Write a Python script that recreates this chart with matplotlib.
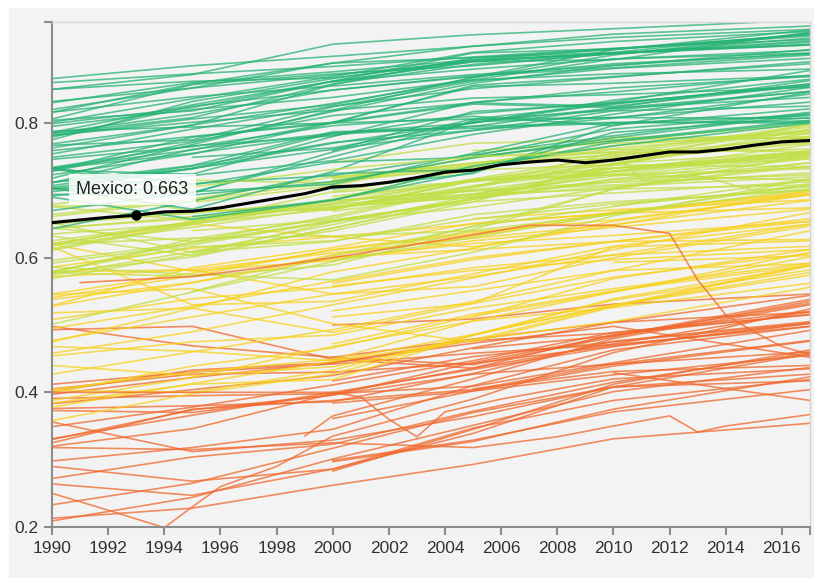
import matplotlib
matplotlib.use("Agg")
import matplotlib.pyplot as plt
import numpy as np
from matplotlib.patches import Rectangle

YEARS = [1990, 1995, 2000, 2005, 2010, 2017]

# very high (>= 0.8 in 2017)
very_high = [
    [0.850, 0.872, 0.917, 0.931, 0.940, 0.953],  # Norway
    [0.832, 0.852, 0.889, 0.914, 0.932, 0.944],  # Switzerland
    [0.866, 0.885, 0.899, 0.914, 0.927, 0.939],  # Australia
    [0.763, 0.797, 0.857, 0.897, 0.909, 0.938],  # Ireland
    [0.801, 0.836, 0.869, 0.905, 0.921, 0.936],  # Germany
    [0.804, 0.818, 0.862, 0.891, 0.894, 0.935],  # Iceland
    [0.781, 0.806, 0.827, 0.867, 0.901, 0.933],  # Hong Kong
    [0.816, 0.858, 0.889, 0.897, 0.905, 0.933],  # Sweden
    [0.718, 0.768, 0.819, 0.868, 0.909, 0.932],  # Singapore
    [0.830, 0.860, 0.876, 0.894, 0.910, 0.931],  # Netherlands
    [0.799, 0.823, 0.862, 0.904, 0.910, 0.929],  # Denmark
    [0.850, 0.862, 0.867, 0.892, 0.903, 0.926],  # Canada
    [0.860, 0.873, 0.884, 0.898, 0.911, 0.924],  # United States
    [0.775, 0.832, 0.866, 0.894, 0.903, 0.922],  # United Kingdom
    [0.784, 0.808, 0.858, 0.887, 0.903, 0.920],  # Finland
    [0.820, 0.852, 0.871, 0.892, 0.904, 0.917],  # New Zealand
    [0.806, 0.857, 0.873, 0.885, 0.903, 0.916],  # Belgium
    [None, None, 0.861, 0.891, 0.904, 0.916],    # Liechtenstein
    [0.816, 0.839, 0.855, 0.872, 0.885, 0.909],  # Japan
    [0.795, 0.820, 0.838, 0.864, 0.895, 0.908],  # Austria
    [0.786, 0.827, 0.862, 0.880, 0.895, 0.904],  # Luxembourg
    [0.785, 0.813, 0.849, 0.869, 0.888, 0.903],  # Israel
    [0.728, 0.771, 0.817, 0.859, 0.886, 0.903],  # Korea
    [0.779, 0.825, 0.849, 0.870, 0.882, 0.901],  # France
    [0.767, 0.775, 0.824, 0.862, 0.881, 0.896],  # Slovenia
    [0.754, 0.791, 0.825, 0.851, 0.868, 0.891],  # Spain
    [0.730, 0.779, 0.800, 0.856, 0.869, 0.888],  # Czechia
    [0.769, 0.797, 0.829, 0.864, 0.873, 0.880],  # Italy
    [0.734, 0.766, 0.781, 0.814, 0.831, 0.878],  # Malta
    [0.730, 0.724, 0.780, 0.831, 0.846, 0.871],  # Estonia
    [0.759, 0.780, 0.801, 0.854, 0.859, 0.870],  # Greece
    [0.733, 0.760, 0.801, 0.830, 0.852, 0.869],  # Cyprus
    [0.712, 0.732, 0.785, 0.800, 0.834, 0.865],  # Poland
    [0.723, 0.754, 0.800, 0.828, 0.823, 0.863],  # UAE
    [None, None, 0.759, 0.817, 0.829, 0.858],    # Andorra
    [0.733, 0.696, 0.757, 0.806, 0.828, 0.858],  # Lithuania
    [0.749, 0.773, 0.811, 0.830, 0.825, 0.856],  # Qatar
    [None, 0.749, 0.763, 0.800, 0.830, 0.855],   # Slovakia
    [0.782, 0.801, 0.819, 0.837, 0.842, 0.853],  # Brunei
    [0.698, 0.722, 0.744, 0.783, 0.813, 0.853],  # Saudi Arabia
    [0.703, 0.672, 0.728, 0.804, 0.819, 0.847],  # Latvia
    [0.711, 0.761, 0.785, 0.795, 0.822, 0.847],  # Portugal
    [0.746, 0.765, 0.796, 0.810, 0.796, 0.846],  # Bahrain
    [0.701, 0.733, 0.761, 0.789, 0.807, 0.843],  # Chile
    [0.704, 0.732, 0.770, 0.801, 0.822, 0.838],  # Hungary
    [0.670, 0.697, 0.750, 0.802, 0.808, 0.831],  # Croatia
    [0.707, 0.736, 0.771, 0.789, 0.818, 0.825],  # Argentina
    [None, None, 0.702, 0.725, 0.797, 0.821],    # Oman
    [0.733, 0.710, 0.722, 0.753, 0.781, 0.816],  # Russia
    [None, None, None, 0.751, 0.791, 0.814],     # Montenegro
    [0.694, 0.693, 0.713, 0.748, 0.778, 0.813],  # Bulgaria
    [0.703, 0.698, 0.709, 0.755, 0.800, 0.811],  # Romania
    [None, 0.661, 0.686, 0.727, 0.786, 0.808],   # Belarus
    [0.788, 0.794, 0.800, 0.806, 0.808, 0.807],  # Bahamas
    [0.692, 0.708, 0.742, 0.749, 0.774, 0.804],  # Uruguay
    [0.712, 0.737, 0.787, 0.792, 0.800, 0.803],  # Kuwait
    [0.643, 0.684, 0.725, 0.731, 0.772, 0.802],  # Malaysia
    [0.732, 0.755, 0.783, 0.795, 0.801, 0.800],  # Barbados
    [0.690, 0.657, 0.685, 0.736, 0.766, 0.800],  # Kazakhstan
]

# high (0.7 - 0.8)
high = [
    [0.577, 0.628, 0.659, 0.703, 0.745, 0.798],  # Iran
    [None, None, 0.741, 0.770, 0.775, 0.798],    # Palau
    [None, None, 0.715, 0.741, 0.757, 0.797],    # Seychelles
    [0.661, 0.685, 0.712, 0.734, 0.754, 0.794],  # Costa Rica
    [0.579, 0.623, 0.655, 0.687, 0.737, 0.791],  # Turkey
    [0.620, 0.654, 0.681, 0.717, 0.750, 0.790],  # Mauritius
    [0.664, 0.687, 0.720, 0.740, 0.766, 0.789],  # Panama
    [None, 0.715, 0.711, 0.749, 0.762, 0.787],   # Serbia
    [0.644, 0.624, 0.662, 0.706, 0.740, 0.785],  # Albania
    [0.676, 0.682, 0.707, 0.750, 0.774, 0.784],  # Trinidad and Tobago
    [None, None, None, 0.759, 0.770, 0.780],     # Antigua
    [None, None, 0.673, 0.715, 0.739, 0.780],    # Georgia
    [None, None, 0.719, 0.740, 0.752, 0.778],    # St Kitts
    [0.676, 0.655, 0.686, 0.735, 0.779, 0.777],  # Cuba
    [None, None, 0.713, 0.736, 0.748, 0.772],    # Grenada
    [0.625, 0.653, 0.687, 0.715, 0.744, 0.770],  # Sri Lanka
    [None, None, 0.672, 0.714, 0.728, 0.768],    # Bosnia
    [0.635, 0.651, 0.672, 0.705, 0.756, 0.761],  # Venezuela
    [0.611, 0.649, 0.685, 0.700, 0.727, 0.759],  # Brazil
    [None, 0.609, 0.640, 0.683, 0.740, 0.757],   # Azerbaijan
    [None, None, 0.718, 0.737, 0.761, 0.757],    # Lebanon
    [None, None, 0.669, 0.694, 0.733, 0.757],    # North Macedonia
    [0.632, 0.603, 0.644, 0.689, 0.733, 0.755],  # Armenia
    [0.574, 0.609, 0.649, 0.692, 0.724, 0.755],  # Thailand
    [0.577, 0.601, 0.644, 0.687, 0.729, 0.754],  # Algeria
    [0.501, 0.549, 0.594, 0.647, 0.702, 0.752],  # China
    [0.643, 0.661, 0.674, 0.707, 0.728, 0.752],  # Ecuador
    [0.705, 0.669, 0.671, 0.714, 0.733, 0.751],  # Ukraine
    [0.613, 0.651, 0.679, 0.695, 0.721, 0.750],  # Peru
    [0.592, 0.619, 0.654, 0.687, 0.717, 0.747],  # Colombia
    [None, None, 0.691, 0.713, 0.733, 0.747],    # St Lucia
    [0.644, 0.658, 0.676, 0.690, 0.713, 0.741],  # Fiji
    [0.578, 0.572, 0.589, 0.642, 0.702, 0.741],  # Mongolia
    [0.596, 0.622, 0.654, 0.675, 0.704, 0.736],  # Dominican Republic
    [0.620, 0.653, 0.698, 0.730, 0.738, 0.735],  # Jordan
    [0.569, 0.605, 0.653, 0.687, 0.716, 0.735],  # Tunisia
    [0.654, 0.668, 0.679, 0.716, 0.723, 0.732],  # Jamaica
    [0.650, 0.666, 0.684, 0.699, 0.708, 0.726],  # Tonga
    [None, None, 0.674, 0.700, 0.712, 0.723],    # St Vincent
    [None, None, 0.675, 0.690, 0.706, 0.720],    # Suriname
    [0.586, 0.575, 0.567, 0.608, 0.662, 0.717],  # Botswana
    [None, 0.550, 0.603, 0.646, 0.676, 0.717],   # Maldives
    [None, None, 0.697, 0.714, 0.723, 0.715],    # Dominica
    [None, 0.640, 0.656, 0.683, 0.696, 0.713],   # Samoa
    [None, None, 0.595, 0.630, 0.665, 0.710],    # Uzbekistan
    [0.618, 0.645, 0.675, 0.694, 0.702, 0.708],  # Belize
    [None, None, None, None, 0.677, 0.706],      # Turkmenistan
    [0.580, 0.616, 0.625, 0.657, 0.680, 0.702],  # Paraguay
    [0.620, 0.629, 0.632, 0.640, 0.665, 0.702],  # Gabon
    [0.652, 0.608, 0.624, 0.664, 0.683, 0.700],  # Moldova
]

# medium (0.55 - 0.7)
medium = [
    [0.586, 0.614, 0.631, 0.650, 0.666, 0.699],  # Philippines
    [0.546, 0.577, 0.611, 0.635, 0.668, 0.696],  # Egypt
    [0.621, 0.650, 0.631, 0.616, 0.648, 0.699],  # South Africa
    [0.528, 0.563, 0.604, 0.632, 0.665, 0.694],  # Indonesia
    [0.475, 0.525, 0.579, 0.614, 0.654, 0.694],  # Viet Nam
    [0.541, 0.573, 0.612, 0.638, 0.656, 0.693],  # Bolivia
    [None, None, None, 0.658, 0.671, 0.686],     # Palestine
    [0.572, 0.582, 0.607, 0.629, 0.649, 0.685],  # Iraq
    [0.529, 0.585, 0.615, 0.651, 0.666, 0.674],  # El Salvador
    [0.620, 0.580, 0.596, 0.625, 0.645, 0.672],  # Kyrgyzstan
    [0.458, 0.490, 0.530, 0.570, 0.612, 0.667],  # Morocco
    [0.495, 0.528, 0.565, 0.600, 0.624, 0.658],  # Nicaragua
    [None, None, 0.562, 0.597, 0.624, 0.654],    # Cabo Verde
    [0.538, 0.563, 0.599, 0.621, 0.633, 0.654],  # Guyana
    [0.477, 0.512, 0.546, 0.572, 0.604, 0.650],  # Guatemala
    [0.616, 0.530, 0.535, 0.576, 0.617, 0.650],  # Tajikistan
    [0.579, 0.582, 0.546, 0.557, 0.600, 0.647],  # Namibia
    [0.427, 0.460, 0.493, 0.535, 0.581, 0.640],  # India
    [None, None, 0.601, 0.612, 0.624, 0.627],    # Micronesia
    [None, None, 0.512, 0.532, 0.616, 0.625],    # Timor-Leste
    [0.508, 0.539, 0.556, 0.585, 0.604, 0.617],  # Honduras
    [None, None, None, 0.512, 0.569, 0.612],     # Bhutan
    [0.388, 0.422, 0.468, 0.506, 0.549, 0.608],  # Bangladesh
    [None, None, 0.558, 0.581, 0.597, 0.612],    # Kiribati
    [0.518, 0.525, 0.489, 0.532, 0.571, 0.606],  # Congo
    [None, None, None, None, 0.593, 0.603],      # Vanuatu
    [0.400, 0.439, 0.466, 0.513, 0.549, 0.601],  # Lao PDR
    [0.454, 0.475, 0.485, 0.525, 0.554, 0.592],  # Ghana
    [None, None, 0.521, 0.551, 0.581, 0.591],    # Equatorial Guinea
    [0.468, 0.461, 0.447, 0.486, 0.529, 0.590],  # Kenya
    [None, None, 0.472, 0.516, 0.551, 0.589],    # Sao Tome
    [0.545, 0.554, 0.502, 0.475, 0.527, 0.588],  # Eswatini
    [0.403, 0.400, 0.433, 0.485, 0.539, 0.588],  # Zambia
    [0.384, 0.412, 0.419, 0.485, 0.537, 0.582],  # Cambodia
    [0.358, 0.398, 0.427, 0.485, 0.530, 0.578],  # Myanmar
    [0.378, 0.413, 0.446, 0.478, 0.529, 0.574],  # Nepal
    [0.404, 0.430, 0.449, 0.506, 0.526, 0.562],  # Pakistan
    [0.440, 0.425, 0.438, 0.478, 0.505, 0.556],  # Cameroon
]

# low (< 0.55)
low = [
    [None, None, 0.500, 0.509, 0.531, 0.546],    # Solomon Islands
    [0.383, 0.404, 0.425, 0.466, 0.504, 0.544],  # Papua New Guinea
    [0.373, 0.370, 0.396, 0.444, 0.484, 0.538],  # Tanzania
    [0.498, 0.469, 0.452, 0.441, 0.482, 0.535],  # Zimbabwe
    [None, None, None, 0.465, 0.484, 0.532],     # Nigeria
    [0.493, 0.498, 0.449, 0.436, 0.472, 0.520],  # Lesotho
    [0.397, 0.422, 0.444, 0.477, 0.488, 0.520],  # Mauritania
    [None, None, 0.452, 0.479, 0.504, 0.519],    # Madagascar
    [0.320, 0.346, 0.398, 0.436, 0.486, 0.516],  # Uganda
    [0.349, 0.378, 0.411, 0.447, 0.489, 0.515],  # Benin
    [0.376, 0.380, 0.386, 0.428, 0.476, 0.505],  # Senegal
    [None, None, 0.417, 0.453, 0.475, 0.503],    # Comoros
    [0.405, 0.427, 0.430, 0.443, 0.469, 0.503],  # Togo
    [0.331, 0.366, 0.400, 0.434, 0.468, 0.502],  # Sudan
    [0.298, 0.318, 0.345, 0.410, 0.463, 0.498],  # Afghanistan
    [0.412, 0.430, 0.442, 0.458, 0.471, 0.498],  # Haiti
    [0.391, 0.395, 0.398, 0.409, 0.444, 0.492],  # Cote d'Ivoire
    [0.325, 0.375, 0.388, 0.404, 0.442, 0.477],  # Malawi
    [None, None, 0.361, 0.402, 0.439, 0.476],    # Djibouti
    [None, None, 0.283, 0.345, 0.412, 0.463],    # Ethiopia
    [0.330, 0.374, 0.396, 0.427, 0.442, 0.460],  # Gambia
    [0.272, 0.304, 0.323, 0.372, 0.415, 0.459],  # Guinea
    [0.356, 0.312, 0.329, 0.364, 0.408, 0.457],  # DR Congo
    [None, None, 0.384, 0.402, 0.426, 0.455],    # Guinea-Bissau
    [0.401, 0.433, 0.444, 0.473, 0.498, 0.452],  # Yemen
    [None, None, None, 0.405, 0.431, 0.440],     # Eritrea
    [0.209, 0.244, 0.301, 0.351, 0.401, 0.437],  # Mozambique
    [0.233, 0.265, 0.317, 0.370, 0.408, 0.427],  # Mali
    [None, None, 0.297, 0.327, 0.375, 0.423],    # Burkina Faso
    [0.264, 0.247, 0.286, 0.347, 0.388, 0.419],  # Sierra Leone
    [0.290, 0.268, 0.286, 0.339, 0.408, 0.417],  # Burundi
    [None, None, 0.299, 0.329, 0.371, 0.404],    # Chad
    [None, None, None, None, 0.429, 0.388],      # South Sudan
    [0.213, 0.228, 0.262, 0.293, 0.331, 0.354],  # Niger
]

# lines with sharper moves, sampled more often
libya_years = [1990, 1995, 2000, 2005, 2010, 2011, 2013, 2015, 2017]
libya_hdi = [0.679, 0.705, 0.731, 0.750, 0.757, 0.715, 0.722, 0.700, 0.706]

# short orange stub starting in 1999
stub_years = [1999, 2000, 2005, 2010, 2017]
stub_hdi = [0.335, 0.365, 0.420, 0.480, 0.530]

syria_years = [1991, 1995, 1998, 2000, 2003, 2007, 2010, 2012, 2013, 2014, 2015, 2016, 2017]
syria_hdi = [0.563, 0.572, 0.588, 0.600, 0.620, 0.648, 0.648, 0.636, 0.567, 0.515, 0.490, 0.468, 0.456]

rwanda_years = [1990, 1992, 1994, 1995, 1996, 1998, 2000, 2005, 2010, 2017]
rwanda_hdi = [0.250, 0.225, 0.199, 0.230, 0.260, 0.290, 0.335, 0.390, 0.459, 0.524]

car_years = [1990, 1995, 2000, 2005, 2008, 2010, 2012, 2013, 2014, 2017]
car_hdi = [0.318, 0.315, 0.325, 0.318, 0.334, 0.350, 0.365, 0.341, 0.350, 0.367]

liberia_years = [1990, 1995, 2000, 2001, 2002, 2003, 2004, 2006, 2010, 2017]
liberia_hdi = [0.400, 0.400, 0.400, 0.393, 0.360, 0.334, 0.371, 0.390, 0.420, 0.435]

mexico_years = list(range(1990, 2018))
mexico_hdi = [0.652, 0.656, 0.660, 0.663, 0.668, 0.669, 0.674, 0.681, 0.688, 0.695,
              0.705, 0.707, 0.712, 0.719, 0.727, 0.730, 0.738, 0.742, 0.745, 0.741,
              0.745, 0.751, 0.757, 0.757, 0.761, 0.767, 0.772, 0.774]

GREEN = "#26b374"
LIME = "#c2df45"
YELLOW = "#f7d21e"
ORANGE = "#f0682c"
BG = "#f3f3f3"


def hdi_color(values):
    vals = np.array(values, dtype=float)
    last = vals[~np.isnan(vals)][-1]
    if last >= 0.8:
        return GREEN
    if last >= 0.7:
        return LIME
    if last >= 0.55:
        return YELLOW
    return ORANGE


def draw_country(ax, years, values):
    vals = np.array(values, dtype=float)
    ax.plot(years, vals, color=hdi_color(values), lw=1.2, alpha=0.75,
            solid_capstyle="round", solid_joinstyle="round", zorder=2)


plt.rcParams["font.family"] = ["Liberation Sans", "DejaVu Sans"]

fig = plt.figure(figsize=(8.23, 5.78), dpi=100)
fig.patch.set_facecolor("white")
fig.patches.append(Rectangle((9 / 823, 0), 805 / 823, 570 / 578,
                             transform=fig.transFigure, facecolor=BG,
                             edgecolor="none", zorder=-10))
ax = fig.add_axes([52 / 823, 1 - 527 / 578, 758 / 823, 505 / 578])
ax.set_zorder(1)
ax.set_facecolor(BG)

for group in [low, medium, high, very_high]:
    for row in group:
        draw_country(ax, YEARS, row)

for yrs, vals in [(libya_years, libya_hdi), (stub_years, stub_hdi),
                  (syria_years, syria_hdi), (rwanda_years, rwanda_hdi),
                  (car_years, car_hdi), (liberia_years, liberia_hdi)]:
    draw_country(ax, yrs, vals)

ax.plot(mexico_years, mexico_hdi, color="black", lw=2.2, zorder=4,
        solid_joinstyle="round")
ax.plot([1993], [mexico_hdi[3]], "o", color="black", ms=6.5, zorder=5)
ax.annotate(f"Mexico: {mexico_hdi[3]:.3f}", xy=(1993, mexico_hdi[3]),
            xytext=(-4, 26), textcoords="offset pixels",
            ha="center", va="center", fontsize=13, color="#222222",
            bbox=dict(boxstyle="square,pad=0.4", fc="white", ec="none", alpha=0.85),
            zorder=6)

ax.set_xlim(1990, 2017)
ax.set_ylim(0.2, 0.95)
ax.set_xticks(range(1990, 2017, 2))
ax.set_xticks([2017], minor=True)
ax.set_yticks([0.2, 0.4, 0.6, 0.8])
ax.set_yticks([0.95], minor=True)
ax.set_yticklabels(["0.2", "0.4", "0.6", "0.8"])

for side in ["top", "right"]:
    ax.spines[side].set_color("#d4d4d4")
    ax.spines[side].set_linewidth(1.0)
for side in ["left", "bottom"]:
    ax.spines[side].set_color("#8c8c8c")
    ax.spines[side].set_linewidth(1.5)
ax.tick_params(which="both", direction="out", length=6, width=1.5,
               color="#8c8c8c", labelcolor="#333333", labelsize=12.5, pad=4)

fig.savefig("out.png", dpi=100, facecolor=fig.get_facecolor())
